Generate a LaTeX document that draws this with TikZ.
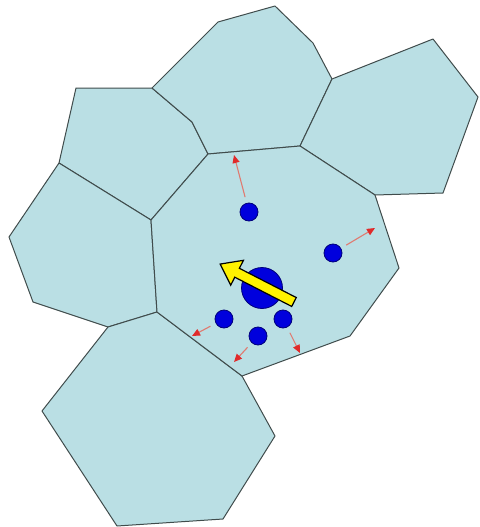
\documentclass[tikz,border=0pt]{standalone}
\usepackage{xcolor}
\usepackage{tikz}
\usetikzlibrary{arrows.meta}
\definecolor{cell}{HTML}{BADFE4}
\definecolor{edge}{HTML}{404C4C}
\definecolor{ball}{HTML}{0000DD}
\definecolor{balldark}{HTML}{00007A}
\definecolor{pushline}{HTML}{E07A70}
\definecolor{pushhead}{HTML}{E02A2A}
\definecolor{flow}{HTML}{FFF200}

\begin{document}
\begin{tikzpicture}[x=1pt,y=-1pt,>=Latex,
 cellp/.style={fill=cell,draw=edge,line width=1pt,line join=round},
 sm/.style={circle,draw=balldark,fill=ball,line width=0.8pt,minimum size=18pt,inner sep=0pt},
 big/.style={sm,minimum size=41pt},
 push/.style={-{Triangle[length=8pt,width=7pt,color=pushhead]},draw=pushline,line width=1.1pt,shorten <=6pt}]
 \useasboundingbox (0,0) rectangle (479,527);
 % cells round the middle one
 \filldraw[cellp] (76,88) -- (152,88) -- (192,122) -- (208,154) -- (151,220) -- (59,163) -- cycle;
 \filldraw[cellp] (152,88) -- (218,22) -- (275,6) -- (313,43) -- (332,79) -- (300,146) -- (208,154) -- (192,122) -- cycle;
 \filldraw[cellp] (332,79) -- (433,39) -- (478,97) -- (443,193) -- (375,195) -- (300,146) -- cycle;
 \filldraw[cellp] (59,163) -- (151,220) -- (157,312) -- (108,327) -- (33,302) -- (9,237) -- cycle;
 \filldraw[cellp] (108,327) -- (157,312) -- (242,376) -- (275,436) -- (223,519) -- (117,526) -- (42,411) -- cycle;
 \filldraw[cellp] (208,154) -- (300,146) -- (375,195) -- (399,268) -- (350,336) -- (242,376) -- (157,312) -- (151,220) -- cycle;
 % particles
 \node[big] (b0) at (262,288) {};
 \node[sm] (b1) at (249,212) {};
 \node[sm] (b2) at (333,253) {};
 \node[sm] (b3) at (224,319) {};
 \node[sm] (b4) at (258,336) {};
 \node[sm] (b5) at (283,319) {};
 \coordinate (t1) at (234,155);
 \coordinate (t2) at (375,228);
 \coordinate (t3) at (192,336);
 \coordinate (t4) at (234,362);
 \coordinate (t5) at (300,353);
 \foreach \b/\t in {b1/t1,b2/t2,b3/t3,b4/t4,b5/t5} \draw[push] (\b) -- (\t);
 % drift
 \begin{scope}[shift={(294,302)},rotate=152.8]
  \filldraw[fill=flow,draw=black,line width=1.2pt,line join=miter] (0,5) -- (64,5) -- (64,14) -- (83,0) -- (64,-14) -- (64,-5) -- (0,-5) -- cycle;
 \end{scope}
\end{tikzpicture}
\end{document}
